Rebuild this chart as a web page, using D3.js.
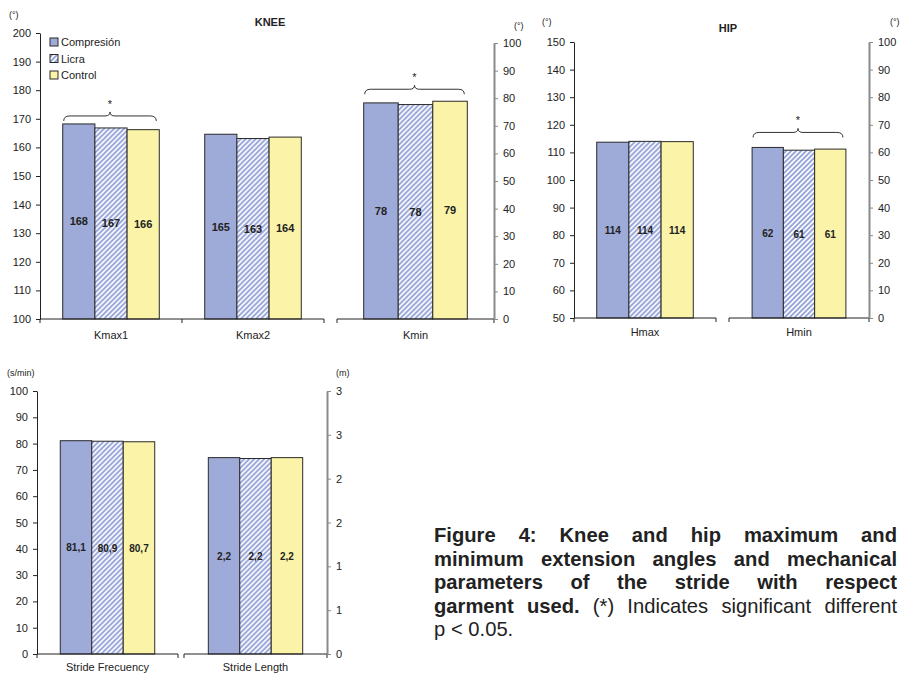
<!DOCTYPE html>
<html>
<head>
<meta charset="utf-8">
<script src="https://cdn.jsdelivr.net/npm/d3@7"></script>
<style>
  body { margin: 0; background: #fff; }
  text { font-family: "Liberation Sans", Arial, sans-serif; fill: #222; }
</style>
</head>
<body>
<div id="chart"></div>
<script>
// data
const seriesNames = ["Compresión", "Licra", "Control"];
const kneeMaxCats = ["Kmax1", "Kmax2"];
const kneeMaxValues = [[168.2, 166.8, 166.2], [164.6, 163.1, 163.6]];
const kneeMinCats = ["Kmin"];
const kneeMinValues = [[78.3, 77.7, 78.9]];
const hipMaxCats = ["Hmax"];
const hipMaxValues = [[113.7, 114.0, 113.9]];
const hipMinCats = ["Hmin"];
const hipMinValues = [[61.8, 60.8, 61.2]];
const strideFreqCats = ["Stride Frecuency"];
const strideFreqValues = [[81.1, 80.9, 80.7]];
const strideLenCats = ["Stride Length"];
const strideLenValues = [[2.24, 2.23, 2.24]];
const significant = ["Kmax1", "Kmin", "Hmin"];

const kneeLeftTicks = [100, 110, 120, 130, 140, 150, 160, 170, 180, 190, 200];
const angleRightTicks = [0, 10, 20, 30, 40, 50, 60, 70, 80, 90, 100];
const hipLeftTicks = [50, 60, 70, 80, 90, 100, 110, 120, 130, 140, 150];
const freqTicks = [0, 10, 20, 30, 40, 50, 60, 70, 80, 90, 100];
const lenTicks = [0, 0.5, 1, 1.5, 2, 2.5, 3];
const lenTickLabels = ["0", "1", "1", "2", "2", "3", "3"];

const captionLines = [
  [["Figure 4: Knee and hip maximum and", true]],
  [["minimum extension angles and mechanical", true]],
  [["parameters of the stride with respect", true]],
  [["garment used.", true], ["(*) Indicates significant different", false]],
  [["p < 0.05.", false]]
];

const W = 905, H = 674;
const colors = ["#9eaad7", "url(#hatch)", "#fbf3a8"];

const svg = d3.select('#chart').append('svg')
  .attr('width', W)
  .attr('height', H);

const defs = svg.append('defs');
const pat = defs.append('pattern')
  .attr('id', 'hatch')
  .attr('patternUnits', 'userSpaceOnUse')
  .attr('width', 5)
  .attr('height', 5);
pat.append('rect').attr('width', 5).attr('height', 5).attr('fill', '#fff');
pat.append('path')
  .attr('d', 'M-1,1 l2,-2 M0,5 l5,-5 M4,6 l2,-2')
  .attr('stroke', '#93a1d8')
  .attr('stroke-width', 1.9);

function leftAxis(y, x, ticks, fmt) {
  const g = svg.append('g')
    .attr('transform', `translate(${x},0)`)
    .call(d3.axisLeft(y).tickValues(ticks).tickSize(4).tickSizeOuter(0).tickPadding(5).tickFormat(fmt || (d => d)));
  g.select('.domain').attr('stroke', '#222');
  g.selectAll('.tick line').attr('stroke', '#222');
  g.selectAll('.tick text').attr('font-size', 11).attr('fill', '#333')
    .style('font-family', '"Liberation Sans", Arial, sans-serif');
}

function rightAxis(y, x, ticks, fmt) {
  const g = svg.append('g')
    .attr('transform', `translate(${x},0)`)
    .call(d3.axisRight(y).tickValues(ticks).tickSize(4).tickSizeOuter(0).tickPadding(5).tickFormat(fmt || (d => d)));
  g.select('.domain').attr('stroke', '#8a8a8a').attr('stroke-width', 2);
  g.selectAll('.tick line').attr('stroke', '#8a8a8a');
  g.selectAll('.tick text').attr('font-size', 11).attr('fill', '#333')
    .style('font-family', '"Liberation Sans", Arial, sans-serif');
}

function brace(x1, x2, yb) {
  const xm = (x1 + x2) / 2;
  svg.append('path')
    .attr('d', `M${x1},${yb + 5} Q${x1},${yb} ${x1 + 6},${yb} L${xm - 5},${yb} Q${xm},${yb} ${xm},${yb - 4} Q${xm},${yb} ${xm + 5},${yb} L${x2 - 6},${yb} Q${x2},${yb} ${x2},${yb + 5}`)
    .attr('fill', 'none')
    .attr('stroke', '#333')
    .attr('stroke-width', 1);
  svg.append('text')
    .attr('x', xm).attr('y', yb - 8)
    .attr('text-anchor', 'middle')
    .attr('font-size', 11)
    .text('*');
}

// one group of bars over a category band
function panel(cats, values, x0, x1, y, fmt, opts) {
  const x = d3.scaleBand().domain(cats).range([x0, x1]);
  const inner = x.bandwidth() * opts.group;
  const xs = d3.scaleBand().domain(seriesNames).range([0, inner]);
  const base = y.range()[0];

  cats.forEach((c, i) => {
    const left = x(c) + (x.bandwidth() - inner) / 2;
    const g = svg.append('g').attr('transform', `translate(${left},0)`);
    g.selectAll('rect')
      .data(values[i])
      .join('rect')
      .attr('x', (d, j) => xs(seriesNames[j]))
      .attr('y', d => y(d))
      .attr('width', xs.bandwidth())
      .attr('height', d => base - y(d))
      .attr('fill', (d, j) => colors[j])
      .attr('stroke', '#2a2a2a')
      .attr('stroke-width', 1);
    g.selectAll('text.val')
      .data(values[i])
      .join('text')
      .attr('class', 'val')
      .attr('x', (d, j) => xs(seriesNames[j]) + xs.bandwidth() / 2)
      .attr('y', d => (y(d) + base) / 2 + 4)
      .attr('text-anchor', 'middle')
      .attr('font-size', opts.valSize)
      .attr('font-weight', 'bold')
      .text(d => fmt(d));

    if (significant.includes(c)) {
      brace(left + 1, left + inner - 3, y(d3.max(values[i])) - opts.braceGap);
    }

    svg.append('text')
      .attr('x', x(c) + x.bandwidth() / 2)
      .attr('y', base + opts.catDy)
      .attr('text-anchor', 'middle')
      .attr('font-size', 11)
      .attr('fill', '#333')
      .text(c);
  });

  // baseline with boundary ticks
  svg.append('line')
    .attr('x1', x0).attr('x2', x1)
    .attr('y1', base).attr('y2', base)
    .attr('stroke', '#222');
  const bounds = cats.map(c => x(c)).concat([x1]);
  svg.selectAll(null)
    .data(bounds)
    .enter().append('line')
    .attr('x1', d => d).attr('x2', d => d)
    .attr('y1', base).attr('y2', base + 4)
    .attr('stroke', '#222');
}

const fmt0 = d3.format('.0f');
const fmtComma = d => d3.format('.1f')(d).replace('.', ',');

// KNEE
const kneeY = d3.scaleLinear().domain([100, 200]).range([319, 33]);
const kneeY2 = d3.scaleLinear().domain([0, 100]).range([319, 43]);
panel(kneeMaxCats, kneeMaxValues, 40, 324, kneeY, fmt0, { group: 0.68, valSize: 11, braceGap: 8, catDy: 20 });
panel(kneeMinCats, kneeMinValues, 337, 494, kneeY2, fmt0, { group: 0.66, valSize: 11, braceGap: 12, catDy: 20 });
leftAxis(kneeY, 40, kneeLeftTicks);
rightAxis(kneeY2, 494, angleRightTicks);

svg.append('text').attr('x', 270).attr('y', 26).attr('text-anchor', 'middle')
  .attr('font-size', 11).attr('font-weight', 'bold').text('KNEE');
svg.append('text').attr('x', 9).attr('y', 18).attr('font-size', 9).attr('fill', '#333').text('(°)');
svg.append('text').attr('x', 514).attr('y', 29).attr('font-size', 9).attr('fill', '#333').text('(°)');

// legend
const legend = svg.append('g').attr('transform', 'translate(50,42)');
seriesNames.forEach((s, i) => {
  legend.append('rect')
    .attr('x', 0).attr('y', i * 16.5 - 4)
    .attr('width', 8).attr('height', 8)
    .attr('fill', colors[i]).attr('stroke', '#2a2a2a');
  legend.append('text')
    .attr('x', 11).attr('y', i * 16.5 + 4)
    .attr('font-size', 11)
    .text(s);
});

// HIP
const hipY = d3.scaleLinear().domain([50, 150]).range([318, 42]);
const hipY2 = d3.scaleLinear().domain([0, 100]).range([318, 42]);
panel(hipMaxCats, hipMaxValues, 574, 716, hipY, fmt0, { group: 0.68, valSize: 10, braceGap: 8, catDy: 18 });
panel(hipMinCats, hipMinValues, 729, 869, hipY2, fmt0, { group: 0.67, valSize: 10, braceGap: 15, catDy: 18 });
leftAxis(hipY, 574, hipLeftTicks);
rightAxis(hipY2, 869, angleRightTicks);

svg.append('text').attr('x', 728).attr('y', 32).attr('text-anchor', 'middle')
  .attr('font-size', 11).attr('font-weight', 'bold').text('HIP');
svg.append('text').attr('x', 542).attr('y', 25).attr('font-size', 9).attr('fill', '#333').text('(°)');
svg.append('text').attr('x', 890).attr('y', 25).attr('font-size', 9).attr('fill', '#333').text('(°)');

// STRIDE
const freqY = d3.scaleLinear().domain([0, 100]).range([654, 391]);
const lenY = d3.scaleLinear().domain([0, 3]).range([654, 391]);
panel(strideFreqCats, strideFreqValues, 37, 178, freqY, fmtComma, { group: 0.67, valSize: 10, braceGap: 8, catDy: 17 });
panel(strideLenCats, strideLenValues, 184, 327, lenY, fmtComma, { group: 0.66, valSize: 10, braceGap: 8, catDy: 17 });
leftAxis(freqY, 37, freqTicks);
rightAxis(lenY, 327, lenTicks, (d, i) => lenTickLabels[i]);

svg.append('text').attr('x', 7).attr('y', 376).attr('font-size', 9).attr('fill', '#333').text('(s/min)');
svg.append('text').attr('x', 336).attr('y', 376).attr('font-size', 9).attr('fill', '#333').text('(m)');

// caption, justified between two edges
const capX0 = 434, capX1 = 897, capY0 = 542, capLH = 23.6, capSize = 20.2;
const cap = svg.append('g');
captionLines.forEach((line, li) => {
  const words = [];
  line.forEach(([txt, bold]) => txt.split(' ').forEach(w => words.push({ w, bold })));
  const nodes = words.map(d => cap.append('text')
    .attr('y', capY0 + li * capLH)
    .attr('font-size', capSize)
    .attr('font-weight', d.bold ? 'bold' : 'normal')
    .attr('fill', '#1a1a1a')
    .text(d.w));
  const widths = nodes.map(n => n.node().getComputedTextLength());
  const last = li === captionLines.length - 1;
  const gap = last ? capSize * 0.28 : (capX1 - capX0 - d3.sum(widths)) / (words.length - 1);
  let cx = capX0;
  nodes.forEach((n, i) => {
    n.attr('x', cx);
    cx += widths[i] + gap;
  });
});
</script>
</body>
</html>
